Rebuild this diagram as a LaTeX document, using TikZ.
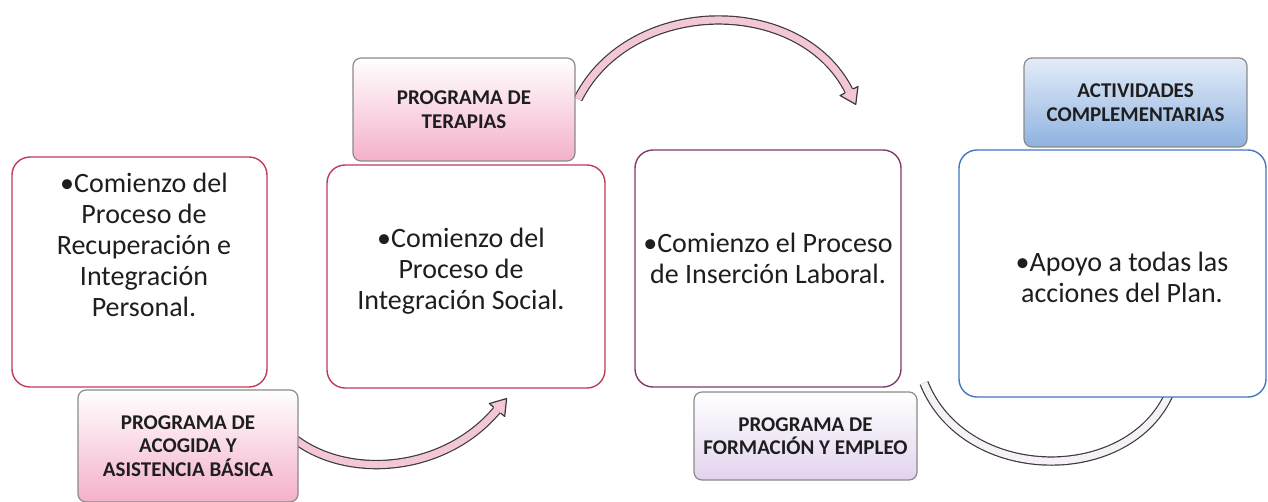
\documentclass[tikz,border=0pt]{standalone}
\usepackage{fontspec}
\setmainfont{Carlito}
\usetikzlibrary{calc}
\definecolor{crim}{HTML}{C23A58}
\definecolor{purp}{HTML}{7E3A6E}
\definecolor{blu}{HTML}{4474C4}
\definecolor{labgray}{HTML}{8A8A8A}
\definecolor{arrgray}{HTML}{3A3A3A}
\definecolor{pinkL}{HTML}{F4B0CB}
\definecolor{lavL}{HTML}{E2D3EE}
\definecolor{bluTop}{HTML}{E3ECF8}
\definecolor{bluBot}{HTML}{8FB2E0}
\definecolor{arrpink}{HTML}{F3C6D8}
\definecolor{arrwhite}{HTML}{F6F1F7}
\definecolor{txt}{HTML}{1E1E1E}
% arrow head: #1 end point, #2 last control point, #3 fill colour
\newcommand\myarrhead[3]{%
  \fill[#3] ($(#1)!10pt!90:(#2)$) -- ($(#1)!15pt!180:(#2)$) -- ($(#1)!10pt!-90:(#2)$) -- cycle;
  \draw[arrgray, line width=1.2pt, line join=round]
    ($(#1)!4.7pt!90:(#2)$) -- ($(#1)!10pt!90:(#2)$) -- ($(#1)!15pt!180:(#2)$)
    -- ($(#1)!10pt!-90:(#2)$) -- ($(#1)!4.7pt!-90:(#2)$);}
\begin{document}
\begin{tikzpicture}[x=1pt,y=-1pt,
  mainbox/.style={draw=#1, rounded corners=18pt, line width=1.4pt, fill=white, inner sep=0pt},
  lab/.style={draw=labgray, rounded corners=8pt, line width=1.2pt, inner sep=0pt,
    font=\fontsize{21}{23.5}\selectfont\bfseries, align=center, text=txt},
  body/.style={font=\fontsize{28}{31}\selectfont, align=center, text=txt, inner sep=0pt},
  arr/.style={draw=arrgray, double=#1, double distance=7pt, line width=1.2pt}
]
\useasboundingbox (0,0) rectangle (1268,501);
% arrow end points and control points
\coordinate (a1s) at (296,440);
\coordinate (a1c) at (350,480);
\coordinate (a1d) at (445,472);
\coordinate (a1e) at (497,410);
\coordinate (a2s) at (578,99);
\coordinate (a2c) at (630,-4);
\coordinate (a2d) at (800,-6);
\coordinate (a2e) at (849,91);
\coordinate (a4s) at (924,383);
\coordinate (a4c) at (965,485);
\coordinate (a4d) at (1130,486);
\coordinate (a4e) at (1170,392);
% arrows (behind boxes)
\draw[arr=arrpink] (a1s) .. controls (a1c) and (a1d) .. (a1e);
\myarrhead{a1e}{a1d}{arrpink}
\draw[arr=arrpink] (a2s) .. controls (a2c) and (a2d) .. (a2e);
\myarrhead{a2e}{a2d}{arrpink}
\draw[arr=arrwhite] (a4s) .. controls (a4c) and (a4d) .. (a4e);
\myarrhead{a4e}{a4d}{arrwhite}
% main boxes
\node[mainbox=crim, minimum width=255pt, minimum height=230pt] (b1) at (139.5,272) {};
\node[mainbox=crim, minimum width=278pt, minimum height=223pt] (b2) at (466,276.5) {};
\node[mainbox=purp, minimum width=266pt, minimum height=237pt] (b3) at (768,268.5) {};
\node[mainbox=blu, minimum width=307pt, minimum height=247pt] (b4) at (1112.5,273.5) {};
% body texts
\node[body] (t1) at (144,245) {•Comienzo del\\Proceso de\\Recuperación e\\Integración\\Personal.};
\node[body] (t2) at (461,271) {•Comienzo del\\Proceso de\\Integración Social.};
\node[body] (t3) at (768,258) {•Comienzo el Proceso\\de Inserción Laboral.};
\node[body] (t4) at (1122,277) {•Apoyo a todas las\\acciones del Plan.};
% labels
\node[lab, top color=white, bottom color=pinkL, minimum width=220pt, minimum height=112pt] (l1) at (188,446)
  {PROGRAMA DE\\ACOGIDA Y\\ASISTENCIA BÁSICA};
\node[lab, top color=white, bottom color=pinkL, minimum width=222pt, minimum height=103pt] (l2) at (464,109.5)
  {PROGRAMA DE\\TERAPIAS};
\node[lab, top color=white, bottom color=lavL, minimum width=223pt, minimum height=88pt] (l3) at (805.5,436)
  {PROGRAMA DE\\FORMACIÓN Y EMPLEO};
\node[lab, top color=bluTop, bottom color=bluBot, minimum width=223pt, minimum height=89pt] (l4) at (1135.5,102.5)
  {ACTIVIDADES\\COMPLEMENTARIAS};
\end{tikzpicture}
\end{document}
